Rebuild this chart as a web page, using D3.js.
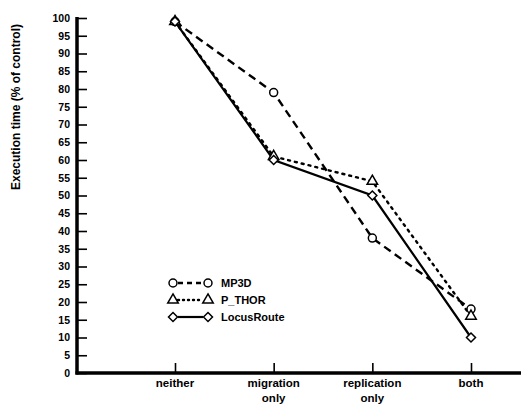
<!DOCTYPE html>
<html>
<head>
<meta charset="utf-8">
<script src="https://cdn.jsdelivr.net/npm/d3@7"></script>
<style>
  body { margin: 0; background: #fff; }
  svg { display: block; }
  .tick text { font-family: "Liberation Sans", Arial, sans-serif; font-weight: bold; }
</style>
</head>
<body>
<svg id="svg" width="521" height="411"></svg>
<script>
var categories = ['neither', 'migration only', 'replication only', 'both'];
var catLines = [['neither'], ['migration', 'only'], ['replication', 'only'], ['both']];
var seriesNames = ['MP3D', 'P_THOR', 'LocusRoute'];
var mp3d = [99, 79, 38, 18];
var pthor = [99, 61, 54, 16];
var locus = [99, 60, 50, 10];
var yTicks = d3.range(0, 101, 5);

var svg = d3.select('#svg');
var x = d3.scalePoint().domain(categories).range([175, 471]);
var y = d3.scaleLinear().domain([0, 100]).range([373, 18]);

// y axis, ticks pointing inward
var yAxis = svg.append('g')
    .attr('transform', 'translate(77,0)')
    .call(d3.axisLeft(y).tickValues(yTicks).tickSize(-10).tickPadding(7));
yAxis.select('.domain').remove();
yAxis.selectAll('.tick line').attr('stroke', '#000').attr('stroke-width', 1.6);
yAxis.selectAll('.tick text').attr('font-size', 10.5).attr('fill', '#000');
svg.append('line')
    .attr('x1', 77).attr('x2', 77)
    .attr('y1', y(100) - 1).attr('y2', y(0) + 1.5)
    .attr('stroke', '#000').attr('stroke-width', 3.5);

// x axis
var xAxis = svg.append('g')
    .attr('transform', 'translate(0,' + y(0) + ')')
    .call(d3.axisBottom(x).tickSize(-10).tickFormat(''));
xAxis.select('.domain').remove();
xAxis.selectAll('.tick line').attr('stroke', '#000').attr('stroke-width', 1.6);
svg.append('line')
    .attr('x1', 75.5).attr('x2', 521)
    .attr('y1', y(0)).attr('y2', y(0))
    .attr('stroke', '#000').attr('stroke-width', 3.5);

svg.append('g').selectAll('text')
    .data(categories)
    .enter().append('text')
    .attr('x', function(d) { return x(d); })
    .attr('y', y(0) + 14)
    .attr('text-anchor', 'middle')
    .attr('font-family', '"Liberation Sans", Arial, sans-serif')
    .attr('font-weight', 'bold')
    .attr('font-size', 11.5)
    .each(function(d, i) {
        var t = d3.select(this);
        catLines[i].forEach(function(s, j) {
            t.append('tspan').attr('x', x(d)).attr('dy', j === 0 ? 0 : 15).text(s);
        });
    });

// y label
svg.append('text')
    .attr('transform', 'translate(20,' + 107 + ') rotate(-90)')
    .attr('text-anchor', 'middle')
    .attr('font-family', '"Liberation Sans", Arial, sans-serif')
    .attr('font-weight', 'bold')
    .attr('font-size', 12)
    .text('Execution time (% of control)');

var series = [
    { name: seriesNames[0], values: mp3d, dash: '8,5', width: 2.4, marker: 'circle' },
    { name: seriesNames[1], values: pthor, dash: '2,5', width: 2.4, marker: 'triangle' },
    { name: seriesNames[2], values: locus, dash: null, width: 2.2, marker: 'diamond' }
];

var line = d3.line()
    .x(function(d, i) { return x(categories[i]); })
    .y(function(d) { return y(d); });

var symbols = {
    circle: d3.symbol().type(d3.symbolCircle).size(50),
    triangle: d3.symbol().type(d3.symbolTriangle).size(48),
    diamond: function() { return 'M0,-4.5L4.5,0L0,4.5L-4.5,0Z'; }
};

series.forEach(function(s) {
    svg.append('path')
        .datum(s.values)
        .attr('d', line)
        .attr('fill', 'none')
        .attr('stroke', '#000')
        .attr('stroke-width', s.width)
        .attr('stroke-linecap', s.dash === '2,5' ? 'round' : 'butt')
        .attr('stroke-dasharray', s.dash);
});
series.forEach(function(s) {
    svg.append('g').selectAll('path')
        .data(s.values)
        .enter().append('path')
        .attr('transform', function(d, i) {
            return 'translate(' + x(categories[i]) + ',' + y(d) + ')';
        })
        .attr('d', symbols[s.marker])
        .attr('fill', '#fff')
        .attr('stroke', '#000')
        .attr('stroke-width', 1.5);
});

// legend
var legend = svg.append('g').attr('transform', 'translate(173,283)');
series.forEach(function(s, i) {
    var g = legend.append('g').attr('transform', 'translate(0,' + i * 17 + ')');
    g.append('line')
        .attr('x1', 5).attr('x2', 30)
        .attr('stroke', '#000')
        .attr('stroke-width', s.width)
        .attr('stroke-linecap', s.dash === '2,5' ? 'round' : 'butt')
        .attr('stroke-dasharray', s.dash === '8,5' ? '5,4' : s.dash === '2,5' ? '1,4' : null);
    [0, 35].forEach(function(px) {
        g.append('path')
            .attr('transform', 'translate(' + px + ',0)')
            .attr('d', symbols[s.marker])
            .attr('fill', '#fff')
            .attr('stroke', '#000')
            .attr('stroke-width', 1.5);
    });
    g.append('text')
        .attr('x', 48).attr('y', 4)
        .attr('font-family', '"Liberation Sans", Arial, sans-serif')
        .attr('font-weight', 'bold')
        .attr('font-size', 11)
        .text(s.name);
});
</script>
</body>
</html>
